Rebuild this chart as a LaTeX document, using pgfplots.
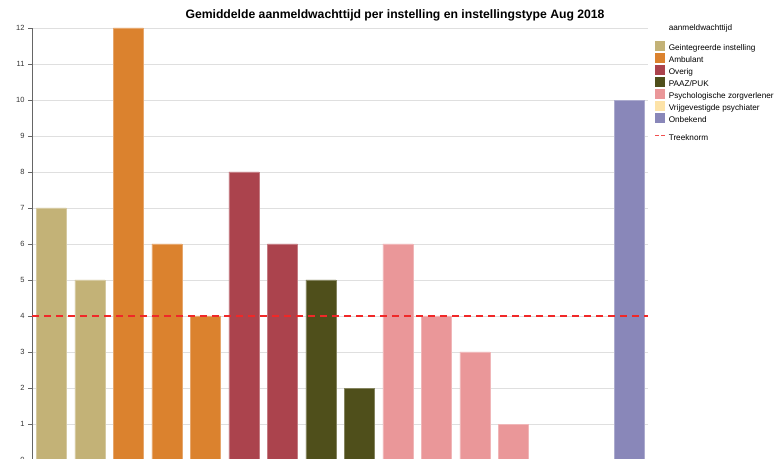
\documentclass[border=0pt]{standalone}
\usepackage{fontspec}
\setmainfont{Liberation Sans}
\usepackage{pgfplots}
\pgfplotsset{compat=1.18}
\definecolor{geint}{HTML}{C3B277}
\definecolor{ambu}{HTML}{DB822E}
\definecolor{overig}{HTML}{AB434D}
\definecolor{paaz}{HTML}{4F4F1B}
\definecolor{psych}{HTML}{EA9799}
\definecolor{vrij}{HTML}{FDE3A8}
\definecolor{onbek}{HTML}{8987B9}
\definecolor{norm}{HTML}{F02828}
\definecolor{normlight}{HTML}{F25050}
\definecolor{axisgray}{HTML}{666666}
\pgfplotsset{normleg/.style={legend image code/.code={%
  \draw[##1] (0pt,2.5pt) -- (10pt,2.5pt);}}}

\begin{document}
\begin{tikzpicture}
\path[use as bounding box] (0,0) rectangle (776pt,458pt);
\node[font=\fontsize{12.2}{14}\selectfont\bfseries] at (395pt,443pt)
  {Gemiddelde aanmeldwachttijd per instelling en instellingstype Aug 2018};
\begin{axis}[
  at={(32pt,-2pt)}, anchor=south west,
  scale only axis, width=616pt, height=432pt,
  xmin=-0.5, xmax=15.5, ymin=0, ymax=12,
  axis x line*=bottom, axis y line*=left,
  axis line style={axisgray, line width=0.8pt},
  xtick=\empty, ytick={0,...,12},
  tick align=outside, major tick length=4pt,
  y tick style={axisgray},
  ymajorgrids, grid style={gray!25, line width=0.6pt},
  ticklabel style={font=\fontsize{7.5}{8}\selectfont, text=black!80},
  /pgf/number format/assume math mode=true,
  ybar, bar width=30pt,
  legend style={draw=none, at={(1,1)}, anchor=north west,
    xshift=6pt, yshift=4pt, inner sep=0pt,
    font=\fontsize{8.2}{9}\selectfont, row sep=0.6pt, column sep=3pt,
    nodes={inner sep=0pt, text height=6pt, text depth=2pt}},
  legend cell align=left,
  legend image code/.code={\fill[#1, draw=none] (0pt,-2.5pt) rectangle (10pt,7.5pt);},
]
\addlegendimage{empty legend}\addlegendentry[text depth=10pt]{aanmeldwachttijd}
\addlegendimage{fill=geint}\addlegendentry{Geintegreerde instelling}
\addlegendimage{fill=ambu}\addlegendentry{Ambulant}
\addlegendimage{fill=overig}\addlegendentry{Overig}
\addlegendimage{fill=paaz}\addlegendentry{PAAZ/PUK}
\addlegendimage{fill=psych}\addlegendentry{Psychologische zorgverlener}
\addlegendimage{fill=vrij}\addlegendentry{Vrijgevestigde psychiater}
\addlegendimage{fill=onbek}\addlegendentry{Onbekend}
\addlegendimage{empty legend}\addlegendentry[text height=8pt, text depth=0pt]{}
\addlegendimage{normleg, draw=normlight, line width=1.6pt, dash pattern=on 4pt off 2pt}
\addlegendentry{Treeknorm}

\addplot[forget plot, bar shift=0pt, fill=geint, draw=geint!70!white] coordinates {(0,7) (1,5)};
\addplot[forget plot, bar shift=0pt, fill=ambu, draw=ambu!70!white] coordinates {(2,12) (3,6) (4,4)};
\addplot[forget plot, bar shift=0pt, fill=overig, draw=overig!70!white] coordinates {(5,8) (6,6)};
\addplot[forget plot, bar shift=0pt, fill=paaz, draw=paaz!70!white] coordinates {(7,5) (8,2)};
\addplot[forget plot, bar shift=0pt, fill=psych, draw=psych!70!white] coordinates {(9,6) (10,4) (11,3) (12,1)};
\addplot[forget plot, bar shift=0pt, fill=onbek, draw=onbek!70!white] coordinates {(15,10)};
\addplot[forget plot, sharp plot, norm, line width=2pt, dash pattern=on 7pt off 5pt]
  coordinates {(-0.5,4) (15.5,4)};
\end{axis}
\end{tikzpicture}
\end{document}
